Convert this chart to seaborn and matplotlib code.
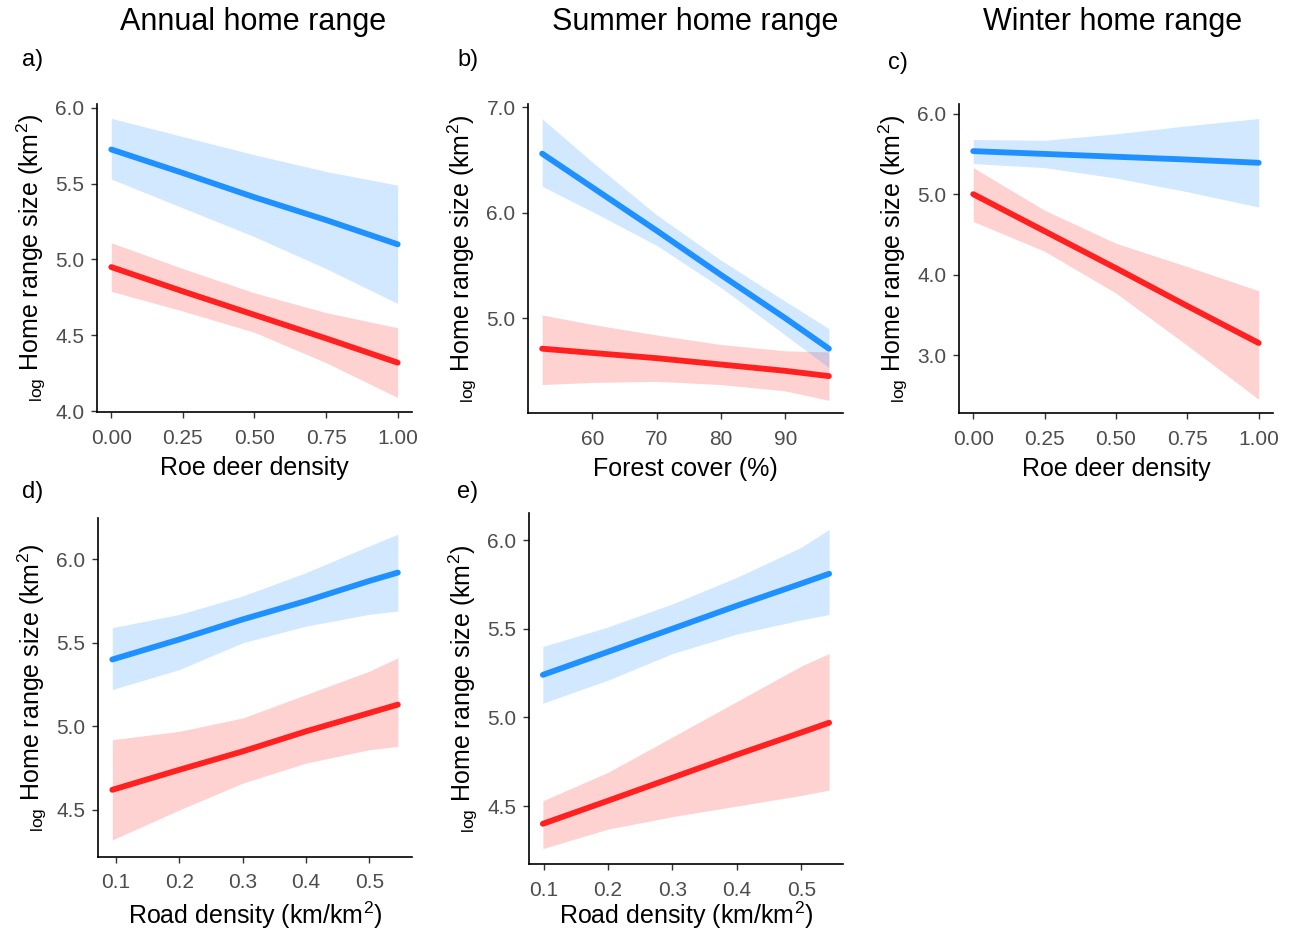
import numpy as np
import pandas as pd
import matplotlib
matplotlib.use('Agg')
import matplotlib.pyplot as plt
import seaborn as sns

# ---- data (fitted value, lower / upper CI) ----
# a) annual home range ~ roe deer density
a_x = [0.0, 0.25, 0.5, 0.75, 1.0]
a_blue = [5.725, 5.57, 5.41, 5.26, 5.10]
a_blue_lo = [5.53, 5.34, 5.15, 4.94, 4.71]
a_blue_hi = [5.93, 5.81, 5.69, 5.58, 5.49]
a_red = [4.95, 4.79, 4.635, 4.48, 4.32]
a_red_lo = [4.79, 4.66, 4.52, 4.32, 4.09]
a_red_hi = [5.11, 4.94, 4.78, 4.65, 4.55]

# b) summer home range ~ forest cover
b_x = [52.2, 60, 70, 80, 90, 96.8]
b_blue = [6.56, 6.24, 5.83, 5.41, 5.00, 4.71]
b_blue_lo = [6.25, 6.01, 5.69, 5.29, 4.84, 4.53]
b_blue_hi = [6.89, 6.48, 5.98, 5.55, 5.16, 4.90]
b_red = [4.71, 4.67, 4.62, 4.56, 4.50, 4.45]
b_red_lo = [4.37, 4.39, 4.40, 4.37, 4.31, 4.22]
b_red_hi = [5.03, 4.94, 4.84, 4.75, 4.69, 4.68]

# c) winter home range ~ roe deer density
c_x = [0.0, 0.25, 0.5, 0.75, 1.0]
c_blue = [5.535, 5.50, 5.465, 5.43, 5.39]
c_blue_lo = [5.38, 5.33, 5.20, 5.03, 4.84]
c_blue_hi = [5.68, 5.67, 5.75, 5.85, 5.94]
c_red = [5.00, 4.54, 4.08, 3.61, 3.15]
c_red_lo = [4.66, 4.29, 3.77, 3.12, 2.45]
c_red_hi = [5.33, 4.80, 4.39, 4.10, 3.80]

# d) annual home range ~ road density
d_x = [0.094, 0.2, 0.3, 0.4, 0.5, 0.545]
d_blue = [5.40, 5.52, 5.64, 5.75, 5.87, 5.92]
d_blue_lo = [5.22, 5.34, 5.50, 5.60, 5.67, 5.69]
d_blue_hi = [5.59, 5.67, 5.78, 5.92, 6.08, 6.15]
d_red = [4.62, 4.74, 4.85, 4.97, 5.08, 5.13]
d_red_lo = [4.32, 4.50, 4.66, 4.78, 4.86, 4.88]
d_red_hi = [4.92, 4.97, 5.05, 5.19, 5.33, 5.41]

# e) summer home range ~ road density
e_x = [0.099, 0.2, 0.3, 0.4, 0.5, 0.543]
e_blue = [5.24, 5.37, 5.50, 5.63, 5.755, 5.81]
e_blue_lo = [5.08, 5.21, 5.36, 5.47, 5.55, 5.58]
e_blue_hi = [5.40, 5.51, 5.64, 5.79, 5.96, 6.06]
e_red = [4.40, 4.53, 4.66, 4.79, 4.915, 4.97]
e_red_lo = [4.26, 4.37, 4.44, 4.50, 4.56, 4.59]
e_red_hi = [4.53, 4.69, 4.89, 5.09, 5.29, 5.36]

col_titles = ['Annual home range', 'Summer home range', 'Winter home range']

sns.set_style('ticks')
plt.rcParams['font.family'] = ['Liberation Sans', 'DejaVu Sans']
plt.rcParams['mathtext.fontset'] = 'custom'
plt.rcParams['mathtext.rm'] = 'Liberation Sans'
plt.rcParams['mathtext.it'] = 'Liberation Sans:italic'
plt.rcParams['text.color'] = 'black'
plt.rcParams['axes.labelcolor'] = 'black'

BLUE = '#1E90FF'
RED = '#FF2020'
GREY = '#4D4D4D'
ylab = r'$_{\mathrm{log}}$ Home range size (km$^{2}$)'

fig = plt.figure(figsize=(12.98, 9.34), dpi=100)

panels = [
    dict(pos=[0.0747, 0.5589, 0.2427, 0.3298], x=a_x,
         blue=(a_blue, a_blue_lo, a_blue_hi), red=(a_red, a_red_lo, a_red_hi),
         xlim=(-0.05, 1.05), ylim=(3.995, 6.025),
         xt=[0, 0.25, 0.5, 0.75, 1.0], xf='%.2f', yt=[4.0, 4.5, 5.0, 5.5, 6.0],
         xl='Roe deer density', xlp=6, tag='a)', tagxy=(22, 60)),
    dict(pos=[0.4068, 0.5578, 0.2427, 0.3308], x=b_x,
         blue=(b_blue, b_blue_lo, b_blue_hi), red=(b_red, b_red_lo, b_red_hi),
         xlim=(50.0, 99.0), ylim=(4.10, 7.03),
         xt=[60, 70, 80, 90], xf='%d', yt=[5.0, 6.0, 7.0],
         xl='Forest cover (%)', xlp=6, tag='b)', tagxy=(457, 60)),
    dict(pos=[0.7388, 0.5578, 0.2419, 0.3308], x=c_x,
         blue=(c_blue, c_blue_lo, c_blue_hi), red=(c_red, c_red_lo, c_red_hi),
         xlim=(-0.05, 1.05), ylim=(2.28, 6.12),
         xt=[0, 0.25, 0.5, 0.75, 1.0], xf='%.2f', yt=[3.0, 4.0, 5.0, 6.0],
         xl='Roe deer density', xlp=6, tag='c)', tagxy=(888, 63)),
    dict(pos=[0.0753, 0.0828, 0.2424, 0.3623], x=d_x,
         blue=(d_blue, d_blue_lo, d_blue_hi), red=(d_red, d_red_lo, d_red_hi),
         xlim=(0.071, 0.568), ylim=(4.22, 6.245),
         xt=[0.1, 0.2, 0.3, 0.4, 0.5], xf='%.1f', yt=[4.5, 5.0, 5.5, 6.0],
         xl=r'Road density (km/km$^{2}$)', xlp=5, tag='d)', tagxy=(22, 492)),
    dict(pos=[0.4073, 0.0749, 0.2424, 0.3761], x=e_x,
         blue=(e_blue, e_blue_lo, e_blue_hi), red=(e_red, e_red_lo, e_red_hi),
         xlim=(0.077, 0.565), ylim=(4.173, 6.154),
         xt=[0.1, 0.2, 0.3, 0.4, 0.5], xf='%.1f', yt=[4.5, 5.0, 5.5, 6.0],
         xl=r'Road density (km/km$^{2}$)', xlp=0, tag='e)', tagxy=(457, 492)),
]

for i, p in enumerate(panels):
    ax = fig.add_axes(p['pos'])
    rows = []
    for grp, (fit, lo, hi) in [('blue', p['blue']), ('red', p['red'])]:
        for xv, f, l, h in zip(p['x'], fit, lo, hi):
            rows.append(dict(x=xv, fit=f, lo=l, hi=h, grp=grp))
    df = pd.DataFrame(rows)
    for grp, c in [('red', RED), ('blue', BLUE)]:
        sub = df[df['grp'] == grp]
        ax.fill_between(sub['x'], sub['lo'], sub['hi'], color=c, alpha=0.2,
                        linewidth=0, zorder=1)
    sns.lineplot(data=df, x='x', y='fit', hue='grp',
                 palette={'blue': BLUE, 'red': RED}, linewidth=4.2,
                 legend=False, ax=ax, zorder=3)
    ax.set_xlim(*p['xlim'])
    ax.set_ylim(*p['ylim'])
    ax.set_xticks(p['xt'])
    ax.set_xticklabels([p['xf'] % v for v in p['xt']])
    ax.set_yticks(p['yt'])
    ax.set_yticklabels(['%.1f' % v for v in p['yt']])
    ax.tick_params(labelsize=15, labelcolor=GREY, color='#333333',
                   length=4, width=1, pad=5)
    ax.tick_params(axis='x', pad=8)
    for s in ['top', 'right']:
        ax.spines[s].set_visible(False)
    for s in ['left', 'bottom']:
        ax.spines[s].set_color('black')
        ax.spines[s].set_linewidth(1.2)
    ax.set_xlabel(p['xl'], fontsize=18, labelpad=p['xlp'])
    ax.set_ylabel(ylab, fontsize=18, labelpad=5)
    fig.text(p['tagxy'][0] / 1298, 1 - p['tagxy'][1] / 934, p['tag'],
             fontsize=17, ha='left', va='center')

for cx, t in zip([253, 695, 1113], col_titles):
    fig.text(cx / 1298, 1 - 22 / 934, t, fontsize=22, ha='center', va='center')

fig.savefig('out.png', dpi=100)
